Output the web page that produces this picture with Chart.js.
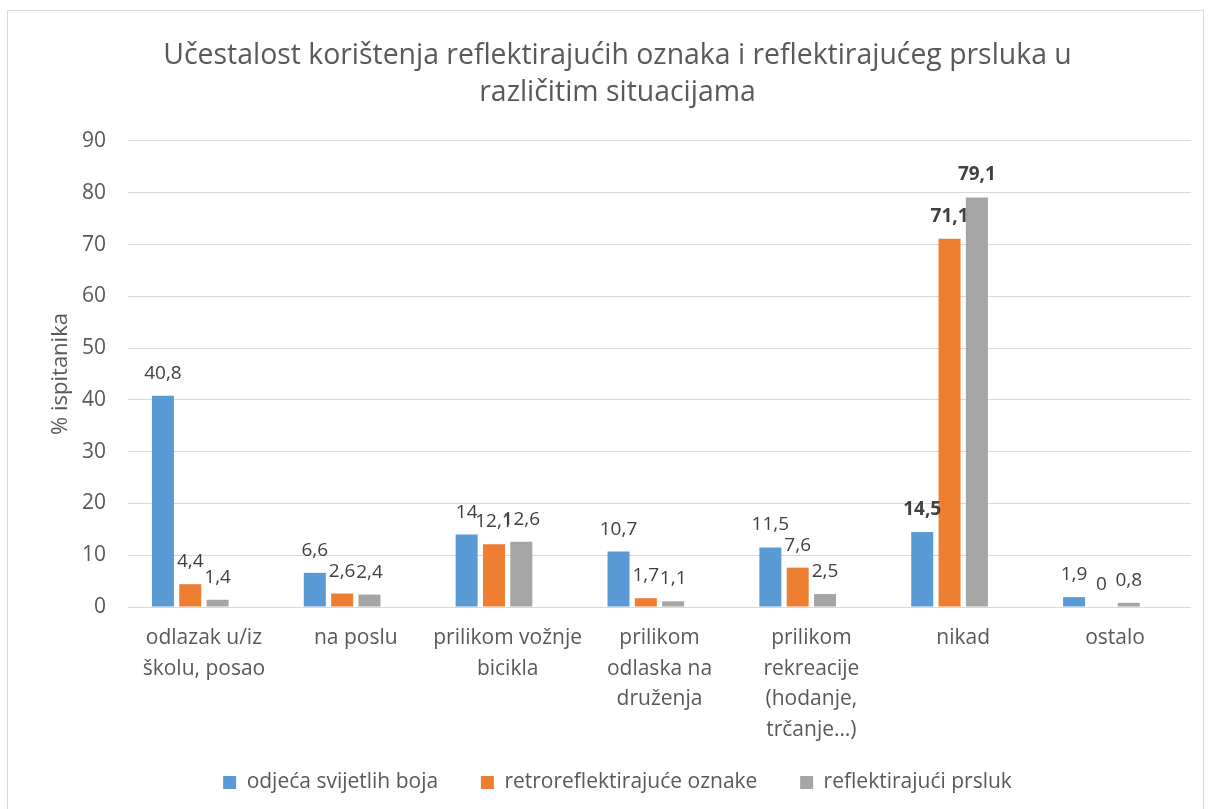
<!DOCTYPE html>
<html>
<head>
<meta charset="utf-8">
<script src="https://cdn.jsdelivr.net/npm/chart.js@4/dist/chart.umd.min.js"></script>
<style>
  html, body { margin: 0; padding: 0; background: #fff; }
  #wrap { width: 1209px; height: 809px; position: relative; }
</style>
</head>
<body>
<div id="wrap"><canvas id="c" width="1209" height="809"></canvas></div>
<script>
const categories = [
  ["odlazak u/iz", "školu, posao"],
  ["na poslu"],
  ["prilikom vožnje", "bicikla"],
  ["prilikom", "odlaska na", "druženja"],
  ["prilikom", "rekreacije", "(hodanje,", "trčanje…)"],
  ["nikad"],
  ["ostalo"]
];
const seriesNames = ["odjeća svijetlih boja", "retroreflektirajuće oznake", "reflektirajući prsluk"];
const odjeca = [40.8, 6.6, 14, 10.7, 11.5, 14.5, 1.9];
const retro = [4.4, 2.6, 12.1, 1.7, 7.6, 71.1, 0];
const prsluk = [1.4, 2.4, 12.6, 1.1, 2.5, 79.1, 0.8];
const emptySlot = [null, null, null, null, null, null, null];
const yTicks = [0, 10, 20, 30, 40, 50, 60, 70, 80, 90];
const boldCategoryIndex = 5;

const FONT = "'Open Sans', Lato, sans-serif";
const TXT = "#595959";
const COLORS = ['#5B9BD5', '#ED7D31', '#A5A5A5'];

const borderPlugin = {
  id: 'frame',
  beforeDraw(chart) {
    const ctx = chart.ctx;
    ctx.save();
    ctx.fillStyle = '#fff';
    ctx.fillRect(0, 0, chart.width, chart.height);
    ctx.strokeStyle = '#d9d9d9';
    ctx.lineWidth = 1;
    ctx.strokeRect(7.5, 10.5, 1196, 800);
    ctx.restore();
  }
};

const labelPlugin = {
  id: 'valueLabels',
  afterDatasetsDraw(chart) {
    const ctx = chart.ctx;
    ctx.save();
    ctx.fillStyle = '#404040';
    ctx.textAlign = 'center';
    ctx.textBaseline = 'alphabetic';
    for (let d = 0; d < 3; d++) {
      const meta = chart.getDatasetMeta(d);
      const data = chart.data.datasets[d].data;
      meta.data.forEach((bar, i) => {
        const v = data[i];
        if (v === null || v === undefined) return;
        const bold = i === boldCategoryIndex;
        ctx.font = (bold ? 'bold ' : '') + '19px ' + FONT;
        ctx.fillText(String(v).replace('.', ','), bar.x, bar.y - 17);
      });
    }
    ctx.restore();
  }
};

const LEGEND_GAP = '\u00A0\u00A0\u00A0\u00A0\u00A0\u00A0';

new Chart(document.getElementById('c'), {
  type: 'bar',
  data: {
    labels: categories,
    datasets: [
      { label: seriesNames[0], data: odjeca, backgroundColor: COLORS[0] },
      { label: seriesNames[1], data: retro, backgroundColor: COLORS[1] },
      { label: seriesNames[2], data: prsluk, backgroundColor: COLORS[2] },
      { label: '', data: emptySlot, backgroundColor: 'rgba(0,0,0,0)' }
    ]
  },
  options: {
    responsive: false,
    animation: false,
    devicePixelRatio: 1,
    categoryPercentage: 0.72,
    barPercentage: 0.805,
    layout: { padding: { left: 44, right: 18, top: 18, bottom: 6 } },
    plugins: {
      title: {
        display: true,
        text: ["Učestalost korištenja reflektirajućih oznaka i reflektirajućeg prsluka u", "različitim situacijama"],
        color: TXT,
        font: { family: FONT, size: 28.4, weight: 'normal', lineHeight: 1.32 },
        padding: { top: 19, bottom: 29 }
      },
      legend: {
        position: 'bottom',
        labels: {
          color: TXT,
          font: { family: FONT, size: 21 },
          boxWidth: 13,
          boxHeight: 13,
          padding: 10,
          generateLabels: (chart) => [0, 1, 2].map(i => ({
            text: seriesNames[i] + (i < 2 ? LEGEND_GAP : ''),
            fillStyle: COLORS[i],
            strokeStyle: COLORS[i],
            lineWidth: 0,
            hidden: false,
            datasetIndex: i,
            fontColor: TXT
          }))
        }
      },
      tooltip: { enabled: false }
    },
    scales: {
      x: {
        grid: { display: false },
        border: { display: false },
        ticks: {
          color: TXT,
          font: { family: FONT, size: 21, lineHeight: 1.45 },
          maxRotation: 0,
          autoSkip: false,
          padding: 8
        },
        afterFit(scale) { scale.height = 155; }
      },
      y: {
        min: 0,
        max: 90,
        afterBuildTicks(scale) { scale.ticks = yTicks.map(v => ({ value: v })); },
        grid: { color: '#d9d9d9', lineWidth: 1, drawTicks: false },
        border: { display: false },
        ticks: {
          color: TXT,
          font: { family: FONT, size: 21 },
          padding: 22
        },
        title: {
          display: true,
          text: '% ispitanika',
          color: TXT,
          font: { family: FONT, size: 22 },
          padding: { top: 4, bottom: 4 }
        },
        afterFit(scale) { scale.width = 128 - 44; }
      }
    }
  },
  plugins: [borderPlugin, labelPlugin]
});
</script>
</body>
</html>
